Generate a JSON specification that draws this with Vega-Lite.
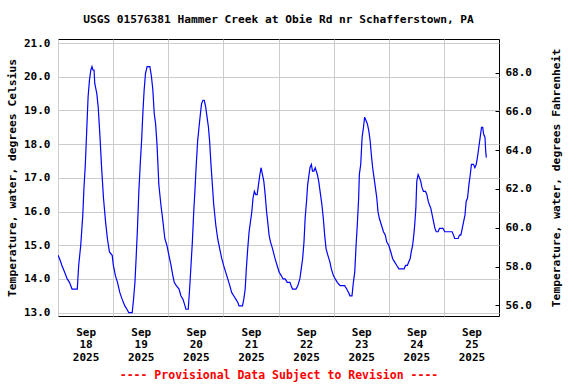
{
  "$schema": "https://vega.github.io/schema/vega-lite/v6.json",
  "autosize": {"type": "none"},
  "padding": {"left": 58, "top": 39, "right": 77, "bottom": 68},
  "width": 441,
  "height": 277,
  "background": "white",
  "config": {
    "view": {"stroke": "black", "strokeWidth": 1, "fill": "white"},
    "font": "DejaVu Sans Mono",
    "axis": {
      "labelFont": "DejaVu Sans Mono", "labelFontWeight": "bold", "labelFontSize": 11, "labelColor": "black",
      "titleFont": "DejaVu Sans Mono", "titleFontWeight": "bold", "titleFontSize": 11.3, "titleColor": "black",
      "domain": false, "gridColor": "#cccccc", "gridWidth": 1, "gridOpacity": 1
    }
  },
  "title": {
    "text": "USGS 01576381 Hammer Creek at Obie Rd nr Schafferstown, PA",
    "font": "DejaVu Sans Mono", "fontSize": 11.2, "fontWeight": "bold", "color": "black",
    "anchor": "middle", "offset": 12
  },
  "datasets": {
    "temp": [
      {"t": "2025-09-18T00:00", "c": 14.7}, {"t": "2025-09-18T00:42", "c": 14.6}, {"t": "2025-09-18T01:42", "c": 14.4},
      {"t": "2025-09-18T02:54", "c": 14.2}, {"t": "2025-09-18T04:00", "c": 14.0}, {"t": "2025-09-18T05:00", "c": 13.9},
      {"t": "2025-09-18T06:06", "c": 13.7}, {"t": "2025-09-18T08:24", "c": 13.7}, {"t": "2025-09-18T09:00", "c": 14.4},
      {"t": "2025-09-18T09:54", "c": 15.0}, {"t": "2025-09-18T10:48", "c": 15.9}, {"t": "2025-09-18T11:18", "c": 16.7},
      {"t": "2025-09-18T11:54", "c": 17.4}, {"t": "2025-09-18T12:30", "c": 18.4}, {"t": "2025-09-18T13:06", "c": 19.4},
      {"t": "2025-09-18T13:42", "c": 19.9}, {"t": "2025-09-18T14:18", "c": 20.2}, {"t": "2025-09-18T14:48", "c": 20.3},
      {"t": "2025-09-18T15:12", "c": 20.2}, {"t": "2025-09-18T15:42", "c": 20.2}, {"t": "2025-09-18T16:00", "c": 19.8},
      {"t": "2025-09-18T16:54", "c": 19.5}, {"t": "2025-09-18T17:30", "c": 19.1}, {"t": "2025-09-18T18:18", "c": 18.2},
      {"t": "2025-09-18T18:54", "c": 17.4}, {"t": "2025-09-18T19:48", "c": 16.4}, {"t": "2025-09-18T20:42", "c": 15.7},
      {"t": "2025-09-18T21:30", "c": 15.2}, {"t": "2025-09-18T22:24", "c": 14.8}, {"t": "2025-09-18T23:36", "c": 14.7},
      {"t": "2025-09-19T00:06", "c": 14.4}, {"t": "2025-09-19T01:00", "c": 14.1}, {"t": "2025-09-19T01:54", "c": 13.9},
      {"t": "2025-09-19T02:54", "c": 13.6}, {"t": "2025-09-19T03:54", "c": 13.4}, {"t": "2025-09-19T05:06", "c": 13.2},
      {"t": "2025-09-19T06:00", "c": 13.1}, {"t": "2025-09-19T06:48", "c": 13.0}, {"t": "2025-09-19T08:18", "c": 13.0},
      {"t": "2025-09-19T08:54", "c": 13.4}, {"t": "2025-09-19T09:30", "c": 13.9}, {"t": "2025-09-19T10:00", "c": 14.6},
      {"t": "2025-09-19T10:36", "c": 15.5}, {"t": "2025-09-19T11:12", "c": 16.6}, {"t": "2025-09-19T11:48", "c": 17.4},
      {"t": "2025-09-19T12:24", "c": 18.1}, {"t": "2025-09-19T13:00", "c": 19.0}, {"t": "2025-09-19T13:30", "c": 19.6},
      {"t": "2025-09-19T14:06", "c": 20.1}, {"t": "2025-09-19T14:48", "c": 20.3}, {"t": "2025-09-19T16:00", "c": 20.3},
      {"t": "2025-09-19T16:42", "c": 20.0}, {"t": "2025-09-19T17:18", "c": 19.6}, {"t": "2025-09-19T17:54", "c": 18.9},
      {"t": "2025-09-19T18:30", "c": 18.6}, {"t": "2025-09-19T19:06", "c": 18.0}, {"t": "2025-09-19T19:54", "c": 16.8},
      {"t": "2025-09-19T20:48", "c": 16.2}, {"t": "2025-09-19T21:42", "c": 15.7}, {"t": "2025-09-19T22:30", "c": 15.2},
      {"t": "2025-09-19T23:24", "c": 15.0},
      {"t": "2025-09-20T00:18", "c": 14.7}, {"t": "2025-09-20T01:12", "c": 14.4}, {"t": "2025-09-20T02:00", "c": 14.1},
      {"t": "2025-09-20T02:36", "c": 13.9}, {"t": "2025-09-20T03:30", "c": 13.8}, {"t": "2025-09-20T04:42", "c": 13.7},
      {"t": "2025-09-20T05:30", "c": 13.5}, {"t": "2025-09-20T06:24", "c": 13.4}, {"t": "2025-09-20T07:18", "c": 13.2},
      {"t": "2025-09-20T07:42", "c": 13.1}, {"t": "2025-09-20T08:42", "c": 13.1}, {"t": "2025-09-20T09:18", "c": 13.7},
      {"t": "2025-09-20T09:54", "c": 14.4}, {"t": "2025-09-20T10:30", "c": 15.1}, {"t": "2025-09-20T11:06", "c": 16.0},
      {"t": "2025-09-20T11:36", "c": 16.6}, {"t": "2025-09-20T12:12", "c": 17.4}, {"t": "2025-09-20T12:48", "c": 18.1},
      {"t": "2025-09-20T13:24", "c": 18.5}, {"t": "2025-09-20T14:00", "c": 18.9}, {"t": "2025-09-20T14:30", "c": 19.2},
      {"t": "2025-09-20T15:06", "c": 19.3}, {"t": "2025-09-20T15:42", "c": 19.3}, {"t": "2025-09-20T16:18", "c": 19.1},
      {"t": "2025-09-20T16:54", "c": 18.8}, {"t": "2025-09-20T17:30", "c": 18.5}, {"t": "2025-09-20T18:00", "c": 18.1},
      {"t": "2025-09-20T18:36", "c": 17.4}, {"t": "2025-09-20T19:12", "c": 16.8}, {"t": "2025-09-20T19:48", "c": 16.2},
      {"t": "2025-09-20T20:42", "c": 15.6}, {"t": "2025-09-20T21:30", "c": 15.2}, {"t": "2025-09-20T22:24", "c": 14.9},
      {"t": "2025-09-20T23:18", "c": 14.6},
      {"t": "2025-09-21T00:06", "c": 14.4}, {"t": "2025-09-21T01:00", "c": 14.2}, {"t": "2025-09-21T01:54", "c": 14.0},
      {"t": "2025-09-21T02:48", "c": 13.8}, {"t": "2025-09-21T03:36", "c": 13.6}, {"t": "2025-09-21T04:30", "c": 13.5},
      {"t": "2025-09-21T05:24", "c": 13.4}, {"t": "2025-09-21T06:18", "c": 13.3}, {"t": "2025-09-21T06:48", "c": 13.2},
      {"t": "2025-09-21T08:18", "c": 13.2}, {"t": "2025-09-21T08:54", "c": 13.4}, {"t": "2025-09-21T09:30", "c": 13.7},
      {"t": "2025-09-21T10:00", "c": 14.3}, {"t": "2025-09-21T10:36", "c": 14.9}, {"t": "2025-09-21T11:12", "c": 15.4},
      {"t": "2025-09-21T11:48", "c": 15.7}, {"t": "2025-09-21T12:24", "c": 16.0}, {"t": "2025-09-21T12:54", "c": 16.4},
      {"t": "2025-09-21T13:30", "c": 16.6}, {"t": "2025-09-21T14:06", "c": 16.5}, {"t": "2025-09-21T14:42", "c": 16.5},
      {"t": "2025-09-21T15:18", "c": 16.8}, {"t": "2025-09-21T15:54", "c": 17.1}, {"t": "2025-09-21T16:24", "c": 17.3},
      {"t": "2025-09-21T17:00", "c": 17.1}, {"t": "2025-09-21T17:36", "c": 16.9}, {"t": "2025-09-21T18:12", "c": 16.5},
      {"t": "2025-09-21T18:48", "c": 16.0}, {"t": "2025-09-21T19:18", "c": 15.7}, {"t": "2025-09-21T19:54", "c": 15.3},
      {"t": "2025-09-21T20:30", "c": 15.1}, {"t": "2025-09-21T21:24", "c": 14.9}, {"t": "2025-09-21T22:30", "c": 14.6},
      {"t": "2025-09-21T23:24", "c": 14.4},
      {"t": "2025-09-22T00:18", "c": 14.2}, {"t": "2025-09-22T01:12", "c": 14.1}, {"t": "2025-09-22T02:00", "c": 14.0},
      {"t": "2025-09-22T02:54", "c": 14.0}, {"t": "2025-09-22T03:48", "c": 13.9}, {"t": "2025-09-22T05:00", "c": 13.9},
      {"t": "2025-09-22T05:30", "c": 13.8}, {"t": "2025-09-22T06:06", "c": 13.7}, {"t": "2025-09-22T07:36", "c": 13.7},
      {"t": "2025-09-22T08:24", "c": 13.8}, {"t": "2025-09-22T09:18", "c": 14.0}, {"t": "2025-09-22T09:54", "c": 14.3},
      {"t": "2025-09-22T10:30", "c": 14.6}, {"t": "2025-09-22T11:06", "c": 15.1}, {"t": "2025-09-22T11:36", "c": 15.8},
      {"t": "2025-09-22T12:12", "c": 16.3}, {"t": "2025-09-22T12:42", "c": 16.8}, {"t": "2025-09-22T13:06", "c": 17.0},
      {"t": "2025-09-22T13:42", "c": 17.3}, {"t": "2025-09-22T14:18", "c": 17.4}, {"t": "2025-09-22T14:48", "c": 17.2},
      {"t": "2025-09-22T15:24", "c": 17.2}, {"t": "2025-09-22T16:00", "c": 17.3}, {"t": "2025-09-22T16:54", "c": 17.1},
      {"t": "2025-09-22T17:30", "c": 16.9}, {"t": "2025-09-22T18:18", "c": 16.5}, {"t": "2025-09-22T18:54", "c": 16.2},
      {"t": "2025-09-22T19:30", "c": 15.8}, {"t": "2025-09-22T20:06", "c": 15.3}, {"t": "2025-09-22T20:42", "c": 14.9},
      {"t": "2025-09-22T21:30", "c": 14.7}, {"t": "2025-09-22T22:24", "c": 14.5}, {"t": "2025-09-22T23:00", "c": 14.3},
      {"t": "2025-09-22T23:54", "c": 14.1},
      {"t": "2025-09-23T00:42", "c": 14.0}, {"t": "2025-09-23T01:36", "c": 13.9}, {"t": "2025-09-23T02:48", "c": 13.8},
      {"t": "2025-09-23T04:48", "c": 13.8}, {"t": "2025-09-23T05:42", "c": 13.7}, {"t": "2025-09-23T06:30", "c": 13.6},
      {"t": "2025-09-23T07:06", "c": 13.5}, {"t": "2025-09-23T08:00", "c": 13.5}, {"t": "2025-09-23T08:36", "c": 13.9},
      {"t": "2025-09-23T09:12", "c": 14.2}, {"t": "2025-09-23T09:42", "c": 14.9}, {"t": "2025-09-23T10:18", "c": 15.6},
      {"t": "2025-09-23T10:54", "c": 16.4}, {"t": "2025-09-23T11:12", "c": 17.1}, {"t": "2025-09-23T11:48", "c": 17.4},
      {"t": "2025-09-23T12:24", "c": 18.2}, {"t": "2025-09-23T13:00", "c": 18.5}, {"t": "2025-09-23T13:30", "c": 18.8},
      {"t": "2025-09-23T14:06", "c": 18.7}, {"t": "2025-09-23T14:42", "c": 18.6}, {"t": "2025-09-23T15:18", "c": 18.4},
      {"t": "2025-09-23T15:54", "c": 18.1}, {"t": "2025-09-23T16:24", "c": 17.7}, {"t": "2025-09-23T17:00", "c": 17.3},
      {"t": "2025-09-23T17:36", "c": 17.0}, {"t": "2025-09-23T18:12", "c": 16.7}, {"t": "2025-09-23T18:48", "c": 16.4},
      {"t": "2025-09-23T19:18", "c": 16.0}, {"t": "2025-09-23T19:54", "c": 15.8}, {"t": "2025-09-23T20:48", "c": 15.6},
      {"t": "2025-09-23T21:42", "c": 15.4}, {"t": "2025-09-23T22:30", "c": 15.3}, {"t": "2025-09-23T23:06", "c": 15.1},
      {"t": "2025-09-24T00:00", "c": 15.0}, {"t": "2025-09-24T00:54", "c": 14.8}, {"t": "2025-09-24T01:42", "c": 14.6},
      {"t": "2025-09-24T02:36", "c": 14.5}, {"t": "2025-09-24T03:30", "c": 14.4}, {"t": "2025-09-24T04:24", "c": 14.3},
      {"t": "2025-09-24T05:12", "c": 14.3}, {"t": "2025-09-24T06:42", "c": 14.3}, {"t": "2025-09-24T07:18", "c": 14.4},
      {"t": "2025-09-24T08:06", "c": 14.4}, {"t": "2025-09-24T08:42", "c": 14.5}, {"t": "2025-09-24T09:18", "c": 14.6},
      {"t": "2025-09-24T09:48", "c": 14.8}, {"t": "2025-09-24T10:24", "c": 15.0}, {"t": "2025-09-24T10:54", "c": 15.3},
      {"t": "2025-09-24T11:18", "c": 15.6}, {"t": "2025-09-24T11:48", "c": 16.1}, {"t": "2025-09-24T12:12", "c": 16.9},
      {"t": "2025-09-24T12:48", "c": 17.1}, {"t": "2025-09-24T13:24", "c": 17.0}, {"t": "2025-09-24T13:54", "c": 16.9},
      {"t": "2025-09-24T14:30", "c": 16.7}, {"t": "2025-09-24T15:06", "c": 16.6}, {"t": "2025-09-24T16:00", "c": 16.6},
      {"t": "2025-09-24T16:36", "c": 16.5}, {"t": "2025-09-24T17:12", "c": 16.3}, {"t": "2025-09-24T17:42", "c": 16.2},
      {"t": "2025-09-24T18:18", "c": 16.1}, {"t": "2025-09-24T18:54", "c": 15.9}, {"t": "2025-09-24T19:30", "c": 15.7},
      {"t": "2025-09-24T20:06", "c": 15.5}, {"t": "2025-09-24T20:42", "c": 15.4}, {"t": "2025-09-24T21:30", "c": 15.4},
      {"t": "2025-09-24T22:06", "c": 15.5}, {"t": "2025-09-24T23:36", "c": 15.5},
      {"t": "2025-09-25T00:24", "c": 15.4}, {"t": "2025-09-25T01:36", "c": 15.4}, {"t": "2025-09-25T03:36", "c": 15.4},
      {"t": "2025-09-25T04:12", "c": 15.3}, {"t": "2025-09-25T04:42", "c": 15.2}, {"t": "2025-09-25T06:12", "c": 15.2},
      {"t": "2025-09-25T06:48", "c": 15.3}, {"t": "2025-09-25T07:24", "c": 15.3}, {"t": "2025-09-25T08:00", "c": 15.5},
      {"t": "2025-09-25T08:36", "c": 15.7}, {"t": "2025-09-25T09:12", "c": 15.9}, {"t": "2025-09-25T09:42", "c": 16.3},
      {"t": "2025-09-25T10:18", "c": 16.4}, {"t": "2025-09-25T10:54", "c": 16.8}, {"t": "2025-09-25T11:30", "c": 17.1},
      {"t": "2025-09-25T12:00", "c": 17.4}, {"t": "2025-09-25T12:54", "c": 17.4}, {"t": "2025-09-25T13:30", "c": 17.3},
      {"t": "2025-09-25T14:06", "c": 17.4}, {"t": "2025-09-25T14:36", "c": 17.6}, {"t": "2025-09-25T15:12", "c": 17.9},
      {"t": "2025-09-25T15:48", "c": 18.2}, {"t": "2025-09-25T16:24", "c": 18.5}, {"t": "2025-09-25T16:54", "c": 18.5},
      {"t": "2025-09-25T17:18", "c": 18.3}, {"t": "2025-09-25T17:54", "c": 18.2}, {"t": "2025-09-25T18:12", "c": 17.8},
      {"t": "2025-09-25T18:30", "c": 17.6}
    ],
    "fahr": [{"f": 56}, {"f": 68}]
  },
  "layer": [
    {
      "data": {"name": "temp"},
      "mark": {"type": "line", "color": "#0000ff", "strokeWidth": 1.2, "clip": true},
      "encoding": {
        "x": {
          "field": "t", "type": "temporal",
          "scale": {"domain": [{"year": 2025, "month": 9, "date": 18}, {"year": 2025, "month": 9, "date": 26}]},
          "axis": {
            "values": [
              {"year": 2025, "month": 9, "date": 18}, {"year": 2025, "month": 9, "date": 19},
              {"year": 2025, "month": 9, "date": 20}, {"year": 2025, "month": 9, "date": 21},
              {"year": 2025, "month": 9, "date": 22}, {"year": 2025, "month": 9, "date": 23},
              {"year": 2025, "month": 9, "date": 24}, {"year": 2025, "month": 9, "date": 25}
            ],
            "labelExpr": "[timeFormat(datum.value, '%b'), timeFormat(datum.value, '%d'), timeFormat(datum.value, '%Y')]",
            "labelOffset": 27.6, "labelLineHeight": 12.5, "labelBaseline": "top", "labelPadding": 10,
            "labelFlush": false, "labelOverlap": false, "labelAlign": "center",
            "ticks": false, "grid": true,
            "title": "---- Provisional Data Subject to Revision ----",
            "titleColor": "#ff0000", "titleFontSize": 11.5, "titlePadding": 7
          }
        },
        "y": {
          "field": "c", "type": "quantitative",
          "scale": {"domain": [12.9, 21.12], "nice": false, "zero": false},
          "axis": {
            "values": [13, 14, 15, 16, 17, 18, 19, 20, 21], "format": ".1f",
            "ticks": false, "grid": true, "labelPadding": 8,
            "title": "Temperature, water, degrees Celsius", "titlePadding": 6
          }
        }
      }
    },
    {
      "data": {"name": "fahr"},
      "mark": {"type": "point", "opacity": 0},
      "encoding": {
        "y": {
          "field": "f", "type": "quantitative",
          "scale": {"domain": [55.45, 69.73], "nice": false, "zero": false},
          "axis": {
            "orient": "right", "values": [56, 58, 60, 62, 64, 66, 68], "format": ".1f",
            "grid": false, "ticks": true, "tickSize": -4, "tickColor": "black", "labelPadding": 10,
            "title": "Temperature, water, degrees Fahrenheit", "titleAngle": 270, "titleBaseline": "top", "titlePadding": 19
          }
        }
      }
    }
  ],
  "resolve": {"scale": {"y": "independent"}}
}
